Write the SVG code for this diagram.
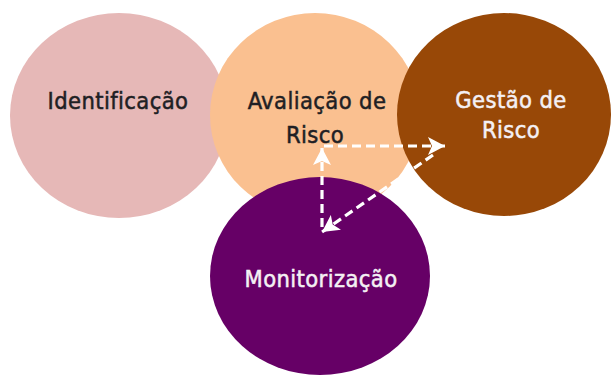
<svg xmlns="http://www.w3.org/2000/svg" width="611" height="376" viewBox="0 0 611 376">
<style>
  .lbl { font-family: "DejaVu Sans Condensed", "DejaVu Sans", "Liberation Sans", sans-serif; font-stretch: condensed; font-size: 23.5px; letter-spacing: 0.4px; text-anchor: middle; stroke-width: 0.5; }
  .dark { fill: #1f1f24; stroke: #1f1f24; }
  .light { fill: #f4f0f4; stroke: #f4f0f4; }
  .conn { stroke: #ffffff; stroke-width: 3.2; stroke-dasharray: 9 5; fill: none; }
</style>
<defs>
  <marker id="arrow" markerUnits="userSpaceOnUse" markerWidth="18" markerHeight="18" refX="17" refY="9" orient="auto">
    <path d="M0,0 L17,9 L0,18 L4,9 z" fill="#ffffff"/>
  </marker>
</defs>
<rect width="611" height="376" fill="#ffffff"/>
<g id="identificacao">
  <ellipse cx="119" cy="115.5" rx="109" ry="102.5" fill="#e6b8b7"/>
  <text class="lbl dark" x="118" y="109">Identificação</text>
</g>
<g id="avaliacao">
  <ellipse cx="315" cy="115" rx="105" ry="102" fill="#fac090"/>
  <text class="lbl dark" x="317" y="109">Avaliação de</text>
  <text class="lbl dark" x="315" y="143">Risco</text>
</g>
<g id="gestao">
  <ellipse cx="504" cy="114.5" rx="107" ry="101.5" fill="#984807"/>
  <text class="lbl light" x="511" y="108">Gestão de</text>
  <text class="lbl light" x="511" y="138">Risco</text>
</g>
<g id="monitorizacao">
  <ellipse cx="320" cy="276" rx="110" ry="99" fill="#660066"/>
  <text class="lbl light" x="321" y="287">Monitorização</text>
</g>
<g id="connectors">
  <line class="conn" x1="322" y1="227" x2="322" y2="148" marker-end="url(#arrow)"/>
  <line class="conn" x1="324" y1="146" x2="445" y2="146" marker-end="url(#arrow)"/>
  <line class="conn" x1="433" y1="155" x2="322" y2="232" marker-end="url(#arrow)"/>
</g>
</svg>
